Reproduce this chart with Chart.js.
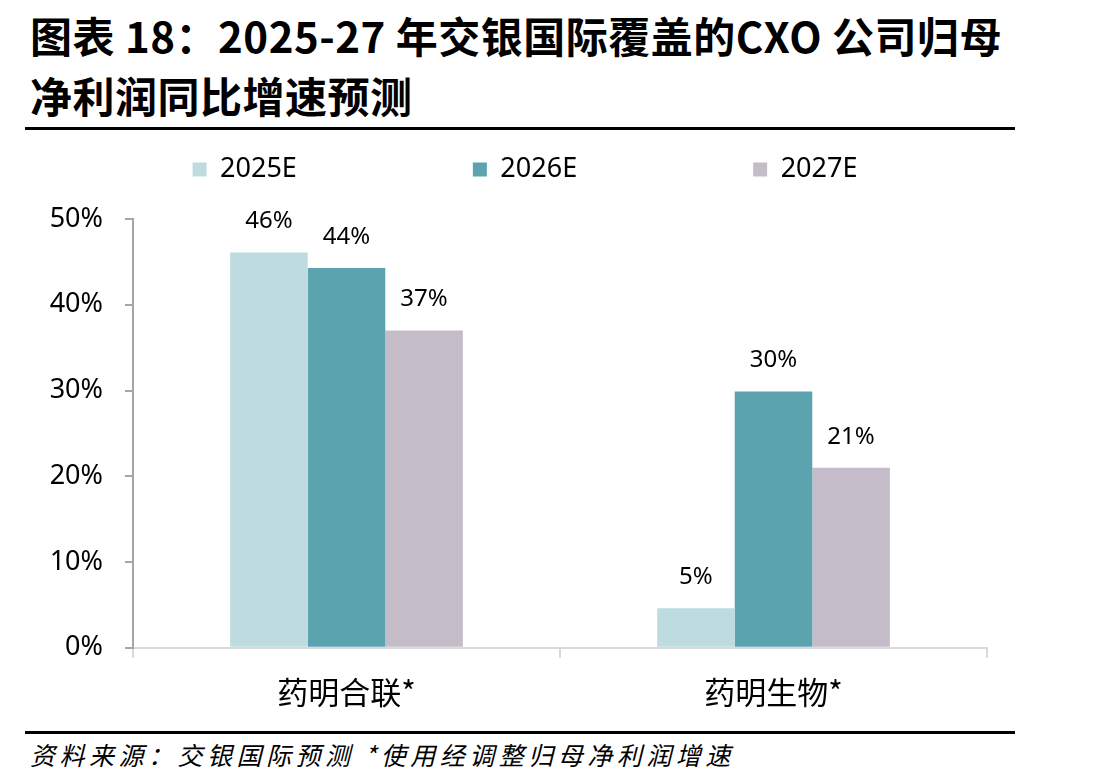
<!DOCTYPE html>
<html lang="zh">
<head>
<meta charset="UTF-8">
<title>CXO 公司归母净利润同比增速预测</title>
<script src="https://cdn.jsdelivr.net/npm/chart.js"></script>
<style>
  body { margin: 0; background: #fff; width: 1097px; height: 783px; position: relative; overflow: hidden; }
  .title { position: absolute; left: 30px; top: 5px; font-family: "Noto Sans CJK SC", sans-serif; font-weight: bold; font-size: 42px; line-height: 60px; letter-spacing: 0.5px; color: #000; white-space: nowrap; }
  .rule { position: absolute; left: 25px; width: 990px; height: 3px; background: #000; }
  .source { position: absolute; left: 30px; top: 736px; font-family: "Noto Sans CJK SC", sans-serif; font-style: italic; font-size: 25px; letter-spacing: 4.5px; color: #000; white-space: nowrap; }
  #wrap { position: absolute; left: 0; top: 135px; }
</style>
</head>
<body>
<div class="title">图表 18：2025-27 年交银国际覆盖的CXO 公司归母<br>净利润同比增速预测</div>
<div class="rule" style="top:127px"></div>
<div id="wrap"><canvas id="chart" width="1050" height="594"></canvas></div>
<div class="rule" style="top:731px"></div>
<div class="source">资料来源：交银国际预测 *使用经调整归母净利润增速</div>
<script>
  // data (percent)
  const categories = ['药明合联*', '药明生物*'];
  const seriesNames = ['2025E', '2026E', '2027E'];
  const values2025 = [46.1, 4.6];
  const values2026 = [44.3, 29.9];
  const values2027 = [37.0, 21.0];
  const seriesColors = ['#BEDCE0', '#5BA3AF', '#C4BCC9'];
  const yMax = 50;
  const yStep = 10;

  Chart.defaults.font.family = '"Noto Sans", "Noto Sans CJK SC", sans-serif';
  Chart.defaults.color = '#000';

  // value labels above each bar
  const barLabels = {
    id: 'barLabels',
    afterDatasetsDraw(chart) {
      const ctx = chart.ctx;
      ctx.save();
      ctx.font = '24px "Noto Sans", sans-serif';
      ctx.fillStyle = '#000';
      ctx.textAlign = 'center';
      ctx.textBaseline = 'bottom';
      chart.data.datasets.forEach((ds, i) => {
        chart.getDatasetMeta(i).data.forEach((bar, j) => {
          ctx.fillText(Math.round(ds.data[j]) + '%', bar.x, bar.y - 19);
        });
      });
      ctx.restore();
    }
  };

  const allValues = [values2025, values2026, values2027];

  new Chart(document.getElementById('chart').getContext('2d'), {
    type: 'bar',
    data: {
      labels: categories,
      datasets: seriesNames.map((name, i) => ({
        label: name,
        data: allValues[i],
        backgroundColor: seriesColors[i],
        borderWidth: 0,
        categoryPercentage: 0.545,
        barPercentage: 1,
        xAxisID: 'x',
        yAxisID: 'y'
      }))
    },
    options: {
      responsive: false,
      animation: false,
      layout: { padding: { top: 7, bottom: 2, left: 0, right: 0 } },
      plugins: {
        tooltip: { enabled: false },
        legend: {
          position: 'top',
          labels: {
            font: { size: 27 },
            color: '#000',
            boxWidth: 14,
            boxHeight: 14,
            padding: 14,
            generateLabels(chart) {
              const items = Chart.defaults.plugins.legend.labels.generateLabels(chart);
              items.forEach((it, i) => {
                if (i < items.length - 1) it.text = it.text + '\u2003'.repeat(6);
              });
              return items;
            }
          }
        }
      },
      scales: {
        x: {
          position: 'bottom',
          grid: { drawOnChartArea: false, offset: true, tickLength: 10, color: '#d9d9d9', lineWidth: 2 },
          border: { color: '#d9d9d9', width: 2 },
          ticks: { font: { family: '"Noto Sans CJK SC", sans-serif', size: 31 }, color: '#000', padding: 16 }
        },
        y: {
          position: 'left',
          min: 0,
          max: yMax,
          grid: { drawOnChartArea: false, tickLength: 8, color: '#a6a6a6', lineWidth: 2 },
          border: { color: '#a6a6a6', width: 2 },
          ticks: { stepSize: yStep, font: { size: 27 }, color: '#000', padding: 22, callback: v => v + '%' },
          afterFit(axis) { axis.width = 133; }
        },
        yRight: {
          position: 'right',
          ticks: { display: false },
          grid: { display: false },
          border: { display: false },
          afterFit(axis) { axis.width = 63; }
        },
        xTop: {
          type: 'category',
          position: 'top',
          ticks: { display: false },
          grid: { display: false },
          border: { display: false },
          afterFit(axis) { axis.height = 26; }
        }
      }
    },
    plugins: [barLabels]
  });
</script>
</body>
</html>
